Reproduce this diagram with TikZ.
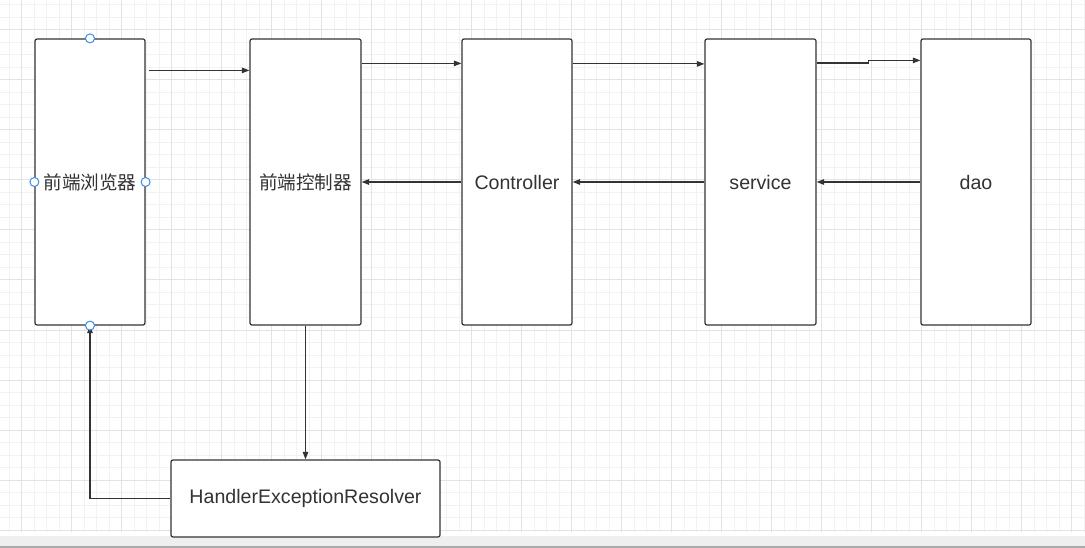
\documentclass[tikz,border=0pt]{standalone}
\usepackage{fontspec}
\setmainfont{Liberation Sans}
\newfontfamily\cjk{Noto Sans CJK SC}
\usetikzlibrary{arrows.meta}
\definecolor{ink}{HTML}{333333}
\definecolor{gridminor}{HTML}{F2F2F2}
\definecolor{gridmajor}{HTML}{E3E3E3}
\definecolor{handle}{HTML}{3C8DE6}
\definecolor{barlight}{HTML}{EFEFEF}
\definecolor{bardark}{HTML}{ABABAB}
\tikzset{
  box/.style={draw=ink, line width=1.2pt, rounded corners=2pt, fill=white,
    text=ink, inner sep=0pt, minimum height=286pt},
  cn/.style={font=\cjk\fontsize{18.6}{22}\selectfont},
  lat/.style={font=\fontsize{19.6}{23}\selectfont},
  conn/.style={draw=ink, line width=1.2pt, -{Triangle[length=7.5pt,width=5.5pt]}},
  minorline/.style={draw=gridminor, line width=1pt},
  majorline/.style={draw=gridmajor, line width=1pt},
  handlept/.style={circle, draw=handle, fill=white, line width=1pt,
    minimum size=9pt, inner sep=0pt}
}
\begin{document}
\begin{tikzpicture}[x=1pt,y=-1pt]
\useasboundingbox (0,0) rectangle (1085,548);
\fill[white] (0,0) rectangle (1085,548);
% grid
\foreach \i in {0,...,86} \draw[minorline] ({9.2+12.5*\i},0) -- ({9.2+12.5*\i},532);
\foreach \i in {0,...,42} \draw[minorline] (0,{5+12.5*\i}) -- (1085,{5+12.5*\i});
\foreach \i in {0,...,21} \draw[majorline] ({21.7+50*\i},0) -- ({21.7+50*\i},532);
\foreach \i in {0,...,10} \draw[majorline] (0,{30+50*\i}) -- (1085,{30+50*\i});
% bottom bar
\fill[barlight] (0,536) rectangle (1085,545.5);
\fill[bardark] (0,545.5) rectangle (1085,548);
% boxes
\node[box, cn, minimum width=110pt] (browser) at (90,182) {前端浏览器};
\node[box, cn, minimum width=111pt] (fc) at (305.5,182) {前端控制器};
\node[box, lat, minimum width=110pt] (ctrl) at (517,182) {Controller};
\node[box, lat, minimum width=111pt] (svc) at (760.5,182) {service};
\node[box, lat, minimum width=110pt] (dao) at (976,182) {dao};
\node[box, lat, minimum width=269pt, minimum height=77pt] (her) at (305.5,498.5) {HandlerExceptionResolver};
% forward connectors
\draw[conn] ([shift={(3,32)}]browser.north east) -- ([shift={(0,32)}]fc.north west);
\draw[conn] ([shift={(0,25)}]fc.north east) -- ([shift={(0,25)}]ctrl.north west);
\draw[conn] ([shift={(0,25.5)}]ctrl.north east) -- ([shift={(0,25.5)}]svc.north west);
\coordinate (bend) at ([shift={(52,24.7)}]svc.north east);
\draw[conn] ([shift={(0,24.7)}]svc.north east) -- (bend) -- ++(0,-2.7) -- ([shift={(0,22)}]dao.north west);
% back connectors
\draw[conn] (dao.west) -- (svc.east);
\draw[conn] (svc.west) -- (ctrl.east);
\draw[conn] (ctrl.west) -- (fc.east);
\draw[conn] (fc.south) -- (her.north);
\draw[conn] (her.west) -| (browser.south);
% connection handles
\foreach \a in {north,south,east,west} \node[handlept] (h\a) at (browser.\a) {};
\end{tikzpicture}
\end{document}
